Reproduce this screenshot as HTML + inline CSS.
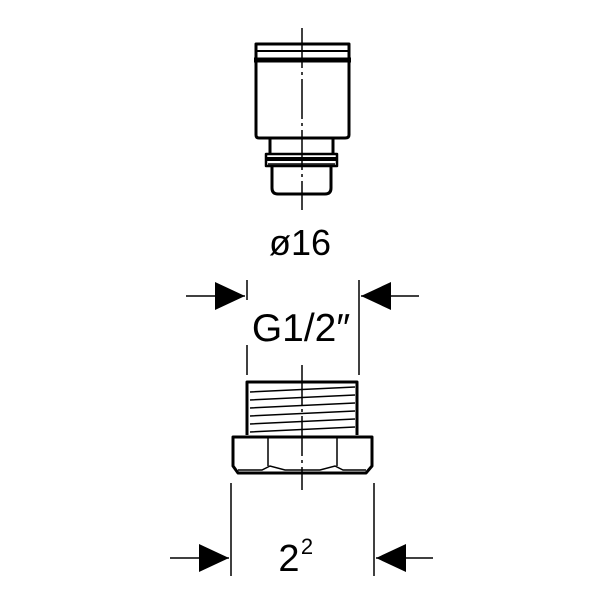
<!DOCTYPE html><html><head><style>body{margin:0;background:#fff}svg{display:block}</style></head><body>
<svg width="600" height="600" viewBox="0 0 600 600" xmlns="http://www.w3.org/2000/svg" font-family="Liberation Sans, sans-serif">
<g fill="none" stroke="#000" stroke-width="3" stroke-linejoin="round">
<path d="M256,135 V44 H349 V135 Q349,138 345,138 H259 Q256,138 256,135 Z"/>
<path d="M270,138 V153 M333,138 V153"/>
<path d="M266,154 H337 V166 H266 Z" stroke-width="2.5"/>
<path d="M272,166 V188 Q272,194 278,194 H325 Q331,194 331,188 V166"/>
<path d="M247,435 V382 H357 V435"/>
<path d="M233,437 H372 V466 L366,473 H238 L233,466 Z"/>
</g>
<g stroke="#000" fill="none">
<line x1="256" y1="51" x2="349" y2="51" stroke-width="2"/>
<line x1="254" y1="60" x2="351" y2="60" stroke-width="5"/>
<line x1="266" y1="159" x2="337" y2="159" stroke-width="4"/>
<line x1="268" y1="164" x2="335" y2="164" stroke-width="1.5"/>
<g stroke-width="1.5">
<line x1="268" y1="437" x2="268" y2="466"/><line x1="337" y1="437" x2="337" y2="466"/>
<path d="M238,470 L262,470 L270,466 L285,470 L320,470 L335,466 L343,470 L366,470"/>
<path d="M250,392 L355,387 M250,400 L355,395 M250,408 L355,403 M250,416 L355,411 M250,424 L355,419 M250,432 L355,427"/>
</g>
<line x1="302" y1="28" x2="302" y2="210" stroke-width="1.5" stroke-dasharray="40,4,3,4"/>
<line x1="302" y1="365" x2="302" y2="490" stroke-width="1.5" stroke-dasharray="40,4,3,4"/>
<g stroke-width="1.5">
<line x1="247" y1="280" x2="247" y2="300"/><line x1="247" y1="345" x2="247" y2="375"/>
<line x1="359" y1="280" x2="359" y2="375"/>
<line x1="186" y1="296" x2="245" y2="296"/><line x1="361" y1="296" x2="419" y2="296"/>
<line x1="231" y1="483" x2="231" y2="576"/><line x1="374" y1="483" x2="374" y2="576"/>
<line x1="170" y1="558" x2="229" y2="558"/><line x1="376" y1="558" x2="433" y2="558"/>
</g>
</g>
<g fill="#000">
<polygon points="245,296 215,282 215,310"/><polygon points="361,296 391,282 391,310"/>
<polygon points="229,558 199,544 199,572"/><polygon points="376,558 406,544 406,572"/>
</g>
<text x="300" y="255" font-size="36" text-anchor="middle">ø16</text>
<text x="301" y="341" font-size="39" text-anchor="middle">G1/2″</text>
<text x="289" y="571" font-size="38" text-anchor="middle">2</text>
<text x="307" y="554" font-size="22" text-anchor="middle">2</text>
</svg></body></html>
